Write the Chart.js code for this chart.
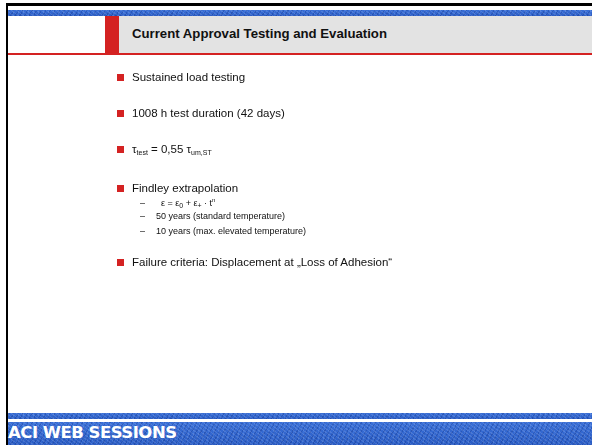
<!DOCTYPE html>
<html>
<head>
<meta charset="utf-8">
<script src="https://cdn.jsdelivr.net/npm/chart.js@4"></script>
<style>
html,body{margin:0;padding:0;background:#fff;}
#slide{position:relative;width:592px;height:445px;overflow:hidden;background:#fff;font-family:"Liberation Sans",Arial,sans-serif;color:#000;}
.blue{background:#2d62cc;background-image:
 repeating-linear-gradient(37deg,rgba(255,255,255,0.12) 0 1px,transparent 1px 3px),
 repeating-linear-gradient(-61deg,rgba(0,20,90,0.20) 0 1px,transparent 1px 4px),
 repeating-linear-gradient(95deg,rgba(120,170,255,0.15) 0 1px,transparent 1px 5px),
 linear-gradient(#3a70d8,#2a5cc4);}
#topBorder{position:absolute;left:6px;top:3px;width:586px;height:3px;background:#000;}
#leftBorder{position:absolute;left:6px;top:3px;width:2px;height:442px;background:#000;}
#topBand{position:absolute;left:8px;top:10px;width:584px;height:6px;}
#head{position:absolute;left:119px;top:16px;width:473px;height:37px;background:#e3e3e3;}
#redBar{position:absolute;left:105px;top:16px;width:14px;height:37px;background:#d42222;}
#redLine{position:absolute;left:8px;top:53px;width:584px;height:2px;background:#d42222;}
#title{position:absolute;left:132px;top:26px;font-weight:bold;font-size:13.2px;white-space:nowrap;color:#111;}
#botBand1{position:absolute;left:8px;top:413px;width:584px;height:6px;}
#botBand2{position:absolute;left:8px;top:422px;width:584px;height:23px;}
#aci{position:absolute;left:8px;top:423px;font-family:"DejaVu Sans",Verdana,sans-serif;font-weight:bold;font-size:16.5px;color:#fff;letter-spacing:-0.5px;white-space:nowrap;}
.b{position:absolute;left:117px;width:7px;height:7px;background:#d42222;}
.t{position:absolute;left:132px;font-size:11.5px;white-space:nowrap;color:#111;}
.s{position:absolute;left:140px;font-size:9px;white-space:nowrap;color:#111;}
.s span.d{display:inline-block;width:16px;}
sub{font-size:7px;vertical-align:-2px;}
sup{font-size:6px;vertical-align:4px;}
#cv{position:absolute;left:8px;top:55px;width:584px;height:358px;}
</style>
</head>
<body>
<div id="slide">
 <canvas id="cv" width="584" height="358"></canvas>
 <div id="topBorder"></div>
 <div id="leftBorder"></div>
 <div id="topBand" class="blue"></div>
 <div id="head"></div>
 <div id="redBar"></div>
 <div id="redLine"></div>
 <div id="title">Current Approval Testing and Evaluation</div>
 <div id="items"></div>
 <div id="botBand1" class="blue"></div>
 <div id="botBand2" class="blue"></div>
 <div id="aci">ACI WEB SESSIONS</div>
</div>
<script>
// Slide content (no numeric series in this reference)
const bulletTexts = [
  'Sustained load testing',
  '1008 h test duration (42 days)',
  '\u03C4<sub>test</sub> = 0,55 \u03C4<sub>um,ST</sub>',
  'Findley extrapolation',
  'Failure criteria: Displacement at \u201ELoss of Adhesion\u201C'
];
const bulletTops = [71, 107, 143, 182, 256];
const subTexts = [
  '&nbsp;&nbsp;\u03B5 = \u03B5<sub>0</sub> + \u03B5<sub>+</sub> \u00B7 t<sup>n</sup>',
  '50 years (standard temperature)',
  '10 years (max. elevated temperature)'
];
const subTops = [197, 211, 226];

const items = document.getElementById('items');
bulletTexts.forEach((txt, i) => {
  const b = document.createElement('div');
  b.className = 'b';
  b.style.top = (bulletTops[i] + 3) + 'px';
  items.appendChild(b);
  const t = document.createElement('div');
  t.className = 't';
  t.style.top = bulletTops[i] + 'px';
  t.innerHTML = txt;
  items.appendChild(t);
});
subTexts.forEach((txt, i) => {
  const s = document.createElement('div');
  s.className = 's';
  s.style.top = subTops[i] + 'px';
  s.innerHTML = '<span class="d">\u2013</span>' + txt;
  items.appendChild(s);
});

// Empty Chart.js canvas for the slide body (no plotted data in reference)
new Chart(document.getElementById('cv'), {
  type: 'scatter',
  data: { datasets: [{ data: [] }] },
  options: {
    responsive: false, animation: false,
    plugins: { legend: { display: false }, tooltip: { enabled: false } },
    scales: { x: { display: false }, y: { display: false } }
  }
});
</script>
</body>
</html>
